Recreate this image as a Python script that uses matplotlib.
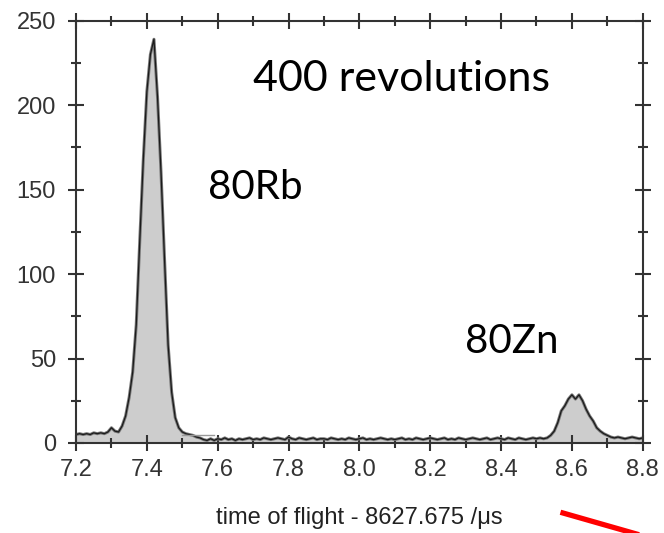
import matplotlib
matplotlib.use("Agg")
import matplotlib.pyplot as plt
import numpy as np

# time of flight grid (us, offset 8627.675) and counts
tof = np.linspace(7.2, 8.8, 161)
counts = [
    5.0, 5.5, 5.0, 5.5, 5.0, 6.0, 5.5, 6.0, 5.5, 6.5,
    9.0, 7.0, 6.5, 10, 16, 27, 42, 70, 120, 168,
    208, 230, 239, 205, 160, 108, 58, 30, 15, 9,
    6.5, 5.5, 5.0, 4.5, 3.5, 3.0, 2.0, 1.5, 2.5, 1.5,
    2.5, 2.0, 3.0, 2.0, 2.5, 1.5, 2.5, 2.0, 2.5, 3.0,
    2.0, 2.5, 2.0, 3.0, 2.5, 2.0, 2.5, 3.0, 2.5, 2.0,
    3.5, 2.5, 2.0, 3.0, 2.5, 2.0, 2.5, 3.0, 2.0, 2.5,
    2.5, 2.0, 3.0, 2.5, 2.0, 2.5, 2.0, 3.0, 2.5, 2.0,
    2.5, 3.0, 2.0, 2.5, 2.0, 2.5, 3.0, 2.5, 2.0, 2.5,
    2.0, 2.5, 3.0, 2.0, 2.5, 2.0, 3.0, 2.5, 2.0, 2.5,
    3.0, 2.5, 2.0, 2.5, 3.0, 2.0, 2.5, 2.0, 3.0, 2.5,
    2.0, 2.5, 3.0, 2.5, 2.0, 2.5, 3.0, 2.0, 2.5, 3.0,
    2.5, 2.0, 3.0, 2.5, 2.0, 3.0, 2.5, 2.0, 2.5, 3.0,
    2.5, 3.0, 2.5, 3.0, 4.5, 7.0, 12, 19, 22, 26,
    28.5, 26, 28.5, 25, 20, 16, 13, 9, 7, 5.5,
    4.5, 3.5, 3.0, 3.5, 3.0, 2.5, 3.0, 3.5, 3.0, 2.5,
    3.0,
]

# leftover of the fitted background under the first peak
fit_x = [7.50, 7.59]
fit_y = [5.0, 5.0]

xticks = [7.2, 7.4, 7.6, 7.8, 8.0, 8.2, 8.4, 8.6, 8.8]
yticks = [0, 50, 100, 150, 200, 250]

plt.rcParams['font.family'] = ['Liberation Sans', 'DejaVu Sans']

fig = plt.figure(figsize=(6.64, 5.33), dpi=100)
ax = fig.add_axes([0.1145, 0.1689, 0.8535, 0.7923])

ax.fill_between(tof, 0, counts, color='#cdcdcd', lw=0)
ax.plot(tof, counts, color='#777777', lw=2.2)
ax.plot(tof, counts, color='#1a1a1a', lw=0.9)
ax.plot(fit_x, fit_y, color='#999999', lw=1.0)

ax.set_xlim(7.2, 8.8)
ax.set_ylim(0, 250)
ax.set_xticks(xticks)
ax.set_yticks(yticks)
ax.set_xticks(np.arange(7.3, 8.8, 0.2), minor=True)
ax.set_yticks([25, 75, 125, 175, 225], minor=True)
ax.set_xticklabels([f"{t:.1f}" for t in xticks])

for s in ax.spines.values():
    s.set_linewidth(1.5)
    s.set_color('#333333')

ax.tick_params(which='both', direction='inout', top=True, right=True,
               color='#333333', width=1.5, labelsize=17, labelcolor='#333333')
ax.tick_params(which='major', length=11)
ax.tick_params(which='minor', length=6.5)
ax.tick_params(axis='x', which='major', pad=6)
ax.tick_params(axis='y', which='major', pad=9)

ax.set_xlabel("time of flight - 8627.675 /\u03bcs", fontsize=17,
              color='#222222', labelpad=19)

ax.text(0.312, 0.862, "400 revolutions", transform=ax.transAxes,
        fontsize=31, family='Lato', ha='left', va='center')
ax.text(0.232, 0.605, "80Rb", transform=ax.transAxes,
        fontsize=29, family='Lato', ha='left', va='center')
ax.text(0.687, 0.24, "80Zn", transform=ax.transAxes,
        fontsize=29, family='Lato', ha='left', va='center')

# red marker stroke at bottom right
fig.add_artist(plt.Line2D([563 / 664, 640 / 664], [1 - 513 / 533, 1 - 535 / 533],
                          color='red', lw=3.8, transform=fig.transFigure))

fig.savefig("out.png", dpi=100)
